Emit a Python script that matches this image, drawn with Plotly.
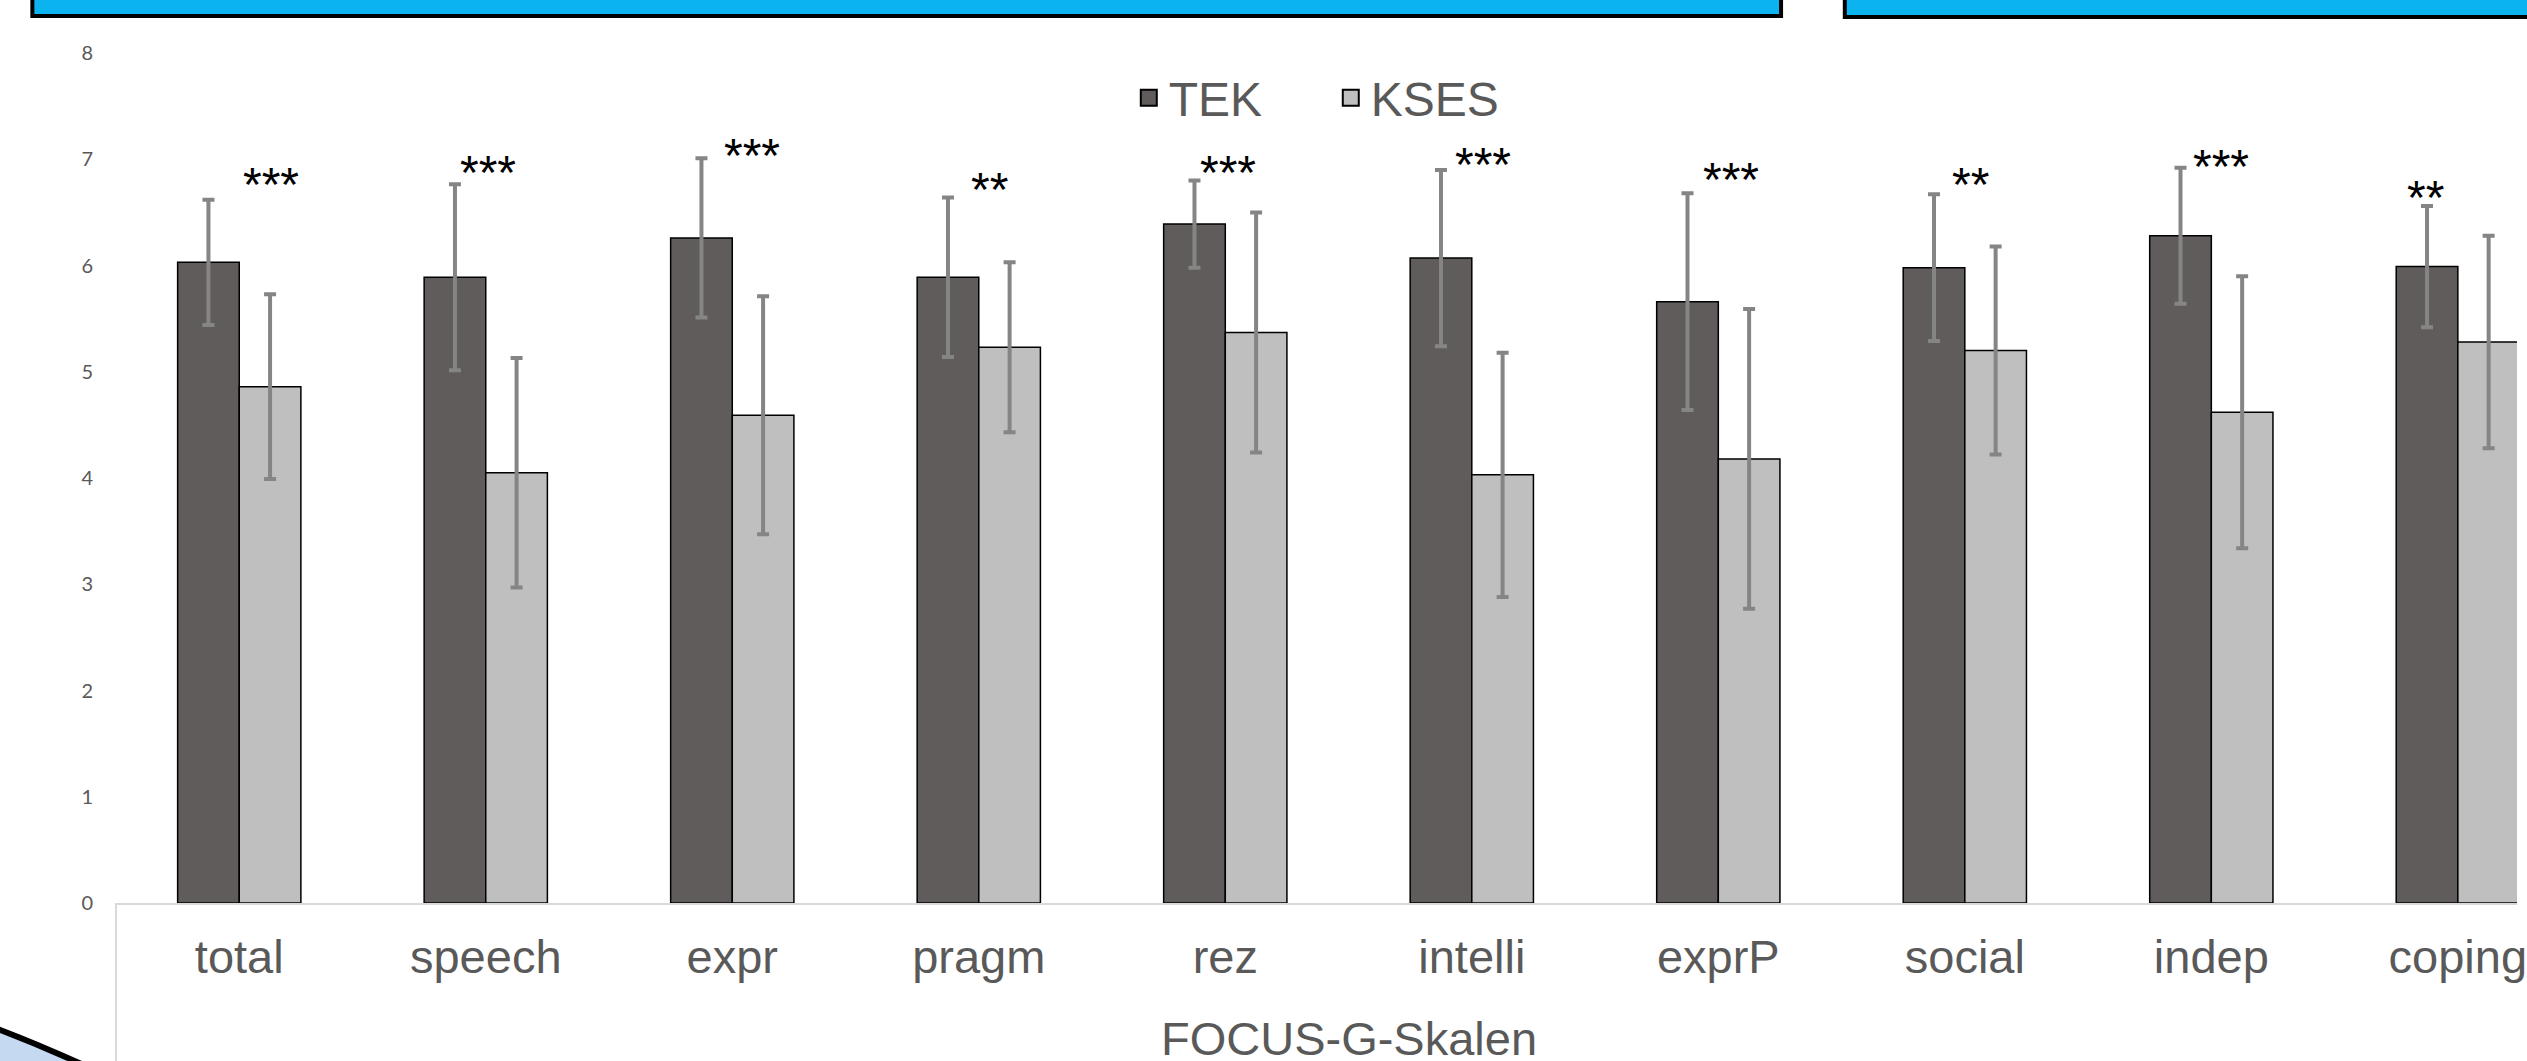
import plotly.graph_objects as go

categories = ["total", "speech", "expr", "pragm", "rez", "intelli", "exprP", "social", "indep", "coping"]
tek_mean = [6.03, 5.89, 6.26, 5.89, 6.39, 6.07, 5.66, 5.98, 6.28, 5.99]
tek_sd = [0.59, 0.875, 0.75, 0.75, 0.41, 0.83, 1.02, 0.69, 0.64, 0.57]
kses_mean = [4.86, 4.05, 4.59, 5.23, 5.37, 4.03, 4.18, 5.20, 4.62, 5.28]
kses_sd = [0.87, 1.08, 1.12, 0.80, 1.13, 1.15, 1.41, 0.98, 1.28, 1.00]
sig_labels = ["***", "***", "***", "**", "***", "***", "***", "**", "***", "**"]
sig_y = [6.81, 6.92, 7.08, 6.76, 6.92, 7.00, 6.86, 6.81, 6.98, 6.69]
sig_dx = [0.128, 0.011, 0.082, 0.043, 0.009, 0.047, 0.051, 0.023, 0.041, -0.130]
y_ticks = [0, 1, 2, 3, 4, 5, 6, 7, 8]
x_title = "FOCUS-G-Skalen"

TEK_COLOR = "#605c5b"
KSES_COLOR = "#bfbfbf"
ERR_COLOR = "#858585"
TXT = "#595959"
FONT = "Liberation Sans, Arial, sans-serif"

fig = go.Figure()
for name, mean, sd, col in [("TEK", tek_mean, tek_sd, TEK_COLOR), ("KSES", kses_mean, kses_sd, KSES_COLOR)]:
    fig.add_trace(go.Bar(
        x=categories, y=mean, name=name, showlegend=False,
        marker=dict(color=col, line=dict(color="black", width=1.5)),
        error_y=dict(type="data", array=sd, visible=True, color=ERR_COLOR, thickness=4, width=6),
    ))
    fig.add_trace(go.Scatter(
        x=[None], y=[None], mode="markers", name=name,
        marker=dict(symbol="square", size=16, color=col, line=dict(color="black", width=2)),
    ))

for i, (lab, yv, dx) in enumerate(zip(sig_labels, sig_y, sig_dx)):
    fig.add_annotation(x=i + dx, y=yv, xref="x", yref="y", text=lab, showarrow=False,
                       font=dict(family=FONT, size=48, color="black"),
                       xanchor="center", yanchor="middle", yshift=-5)

W, H = 2527, 1061
L, T, B = 116, 53, 158
plot_w = W - L
plot_h = H - T - B

def px(xp):
    return (xp - L) / plot_w

def py(yp):
    return (H - B - yp) / plot_h

# x-axis title centred on full category span (chart is cropped at right)
fig.add_annotation(x=4.5, xref="x", y=py(1038), yref="paper", text=x_title, showarrow=False,
                   font=dict(family=FONT, size=47, color=TXT), xanchor="center", yanchor="middle")

shapes = [
    dict(type="line", xref="paper", yref="paper", x0=0, x1=0, y0=0, y1=py(H + 5),
         line=dict(color="#d9d9d9", width=2)),
    dict(type="rect", xref="paper", yref="paper", x0=px(32), x1=px(1788), y0=py(16), y1=py(-20),
         fillcolor="#0bb4ef", line=dict(color="black", width=4)),
    dict(type="rect", xref="paper", yref="paper", x0=px(1852), x1=px(2620), y0=py(17), y1=py(-20),
         fillcolor="#0bb4ef", line=dict(color="black", width=4)),
    dict(type="path", xref="paper", yref="paper",
         path=f"M {px(-8)},{py(1027)} Q {px(40)},{py(1045)} {px(90)},{py(1068)} L {px(-8)},{py(1068)} Z",
         fillcolor="#c5d9f1", line=dict(color="black", width=6)),
]

fig.update_layout(
    width=W, height=H,
    margin=dict(l=L, r=0, t=T, b=B, pad=0),
    paper_bgcolor="white", plot_bgcolor="white",
    barmode="group", bargap=0.5, bargroupgap=0,
    font=dict(family=FONT, color=TXT),
    showlegend=True,
    legend=dict(orientation="h", x=px(1133), xanchor="left", y=py(98), yanchor="middle",
                font=dict(family=FONT, size=48, color=TXT), itemsizing="trace",
                bgcolor="rgba(0,0,0,0)", itemwidth=30, entrywidth=157, entrywidthmode="pixels"),
    shapes=shapes,
    xaxis=dict(range=[-0.5, 9.24], showline=True, linecolor="#d9d9d9", linewidth=2,
               showgrid=False, zeroline=False, ticks="", ticklabelstandoff=12,
               tickfont=dict(family=FONT, size=47, color=TXT)),
    yaxis=dict(range=[0, 8], tickvals=y_ticks, showgrid=False, zeroline=False, showline=False,
               ticks="", ticklabelstandoff=22,
               tickfont=dict(family="Liberation Sans Narrow, Lato, sans-serif", size=20, color=TXT)),
)

fig.write_html("out.html", config={"displayModeBar": False},
               post_script="document.body.style.margin='0';document.body.style.overflow='hidden';")
